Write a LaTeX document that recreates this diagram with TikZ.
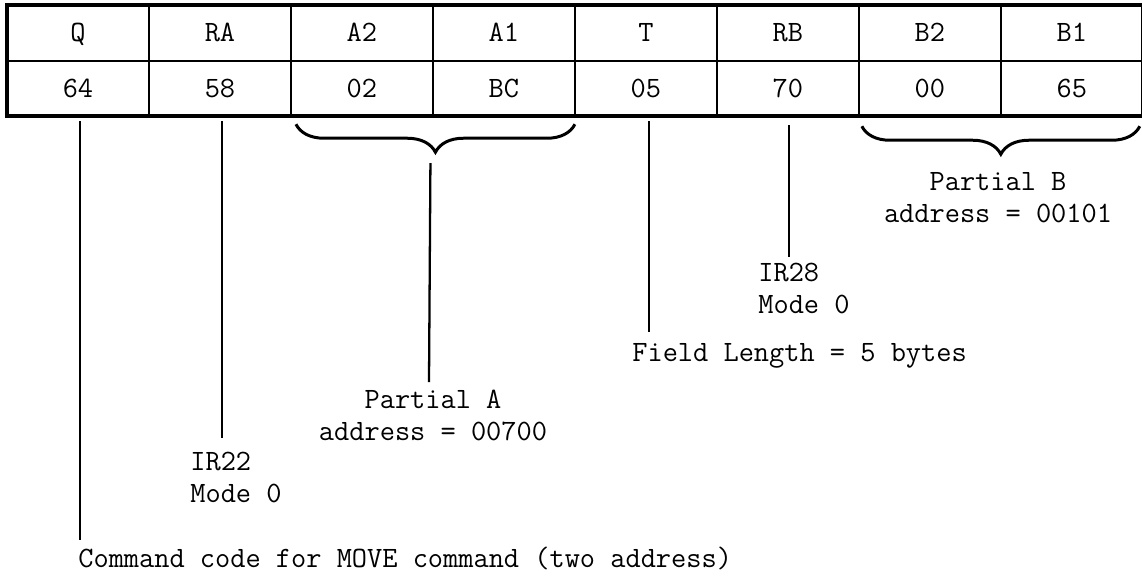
\documentclass[tikz,border=0pt]{standalone}
\usepackage{fontspec}
\usetikzlibrary{positioning,calc,decorations.pathreplacing}

\begin{document}
\begin{tikzpicture}[x=0.02cm, y=-0.02cm,
      cell/.style={rectangle, draw, line width=1.1pt, inner sep=0pt, outer sep=0pt,
        minimum width=2.84cm, minimum height=1.11cm, text height=10.2pt, text depth=0pt,
        font=\ttfamily\fontsize{16.8}{18.3}\selectfont},
      lbl/.style={inner sep=0pt, font=\ttfamily\fontsize{16.8}{18.3}\selectfont},
      lead/.style={line width=1.3pt},
      curly/.style={line width=1.7pt, decorate, decoration={brace, amplitude=0.56cm, mirror}}]
      \useasboundingbox (0,0) rectangle (1142,576);
      % instruction word
      \node[cell] (h1) at (78,33) {Q};
      \node[cell, right=0pt of h1] (h2) {RA};
      \node[cell, right=0pt of h2] (h3) {A2};
      \node[cell, right=0pt of h3] (h4) {A1};
      \node[cell, right=0pt of h4] (h5) {T};
      \node[cell, right=0pt of h5] (h6) {RB};
      \node[cell, right=0pt of h6] (h7) {B2};
      \node[cell, right=0pt of h7] (h8) {B1};
      \node[cell, below=0pt of h1] (v1) {64};
      \node[cell, below=0pt of h2] (v2) {58};
      \node[cell, below=0pt of h3] (v3) {02};
      \node[cell, below=0pt of h4] (v4) {BC};
      \node[cell, below=0pt of h5] (v5) {05};
      \node[cell, below=0pt of h6] (v6) {70};
      \node[cell, below=0pt of h7] (v7) {00};
      \node[cell, below=0pt of h8] (v8) {65};
      \draw[line width=2.4pt] (h1.north west) rectangle (v8.south east);
      % labels
      \node[lbl, anchor=north west] (cmd) at (78,547) {Command code for MOVE command (two address)};
      \node[lbl, anchor=north west, align=left] (ir22) at (190,452) {IR22\\Mode 0};
      \node[lbl, anchor=north, align=center] (pa) at (433,390) {Partial A\\address = 00700};
      \node[lbl, anchor=north west] (flen) at (632,343) {Field Length = 5 bytes};
      \node[lbl, anchor=north west, align=left] (ir28) at (758,263) {IR28\\Mode 0};
      \node[lbl, anchor=north, align=center] (pb) at (998,172) {Partial B\\address = 00101};
      % braces
      \coordinate (abl) at ($(v3.south west)+(5,8)$);
      \coordinate (abr) at ($(v4.south east)+(0,8)$);
      \coordinate (bbl) at ($(v7.south west)+(3,10)$);
      \coordinate (bbr) at ($(v8.south east)+(-3,10)$);
      \draw[curly] (abl) -- (abr);
      \draw[curly] (bbl) -- (bbr);
      % leaders
      \draw[lead] ($(v1.south)+(2,5)$) -- ($(v1.south |- cmd.north)+(2,-7)$);
      \draw[lead] ($(v2.south)+(2,5)$) -- ($(v2.south |- ir22.north)+(2,-14)$);
      \draw[lead] ($(abl)!0.5!(abr)+(-5,39)$) -- ($(pa.north)+(-4,-8)$);
      \draw[lead] ($(v5.south)+(3,5)$) -- ($(v5.south |- flen.north)+(3,-11)$);
      \draw[lead] ($(v6.south)+(1,9)$) -- ($(v6.south |- ir28.north)+(1,-6)$);
    \end{tikzpicture}
\end{document}
